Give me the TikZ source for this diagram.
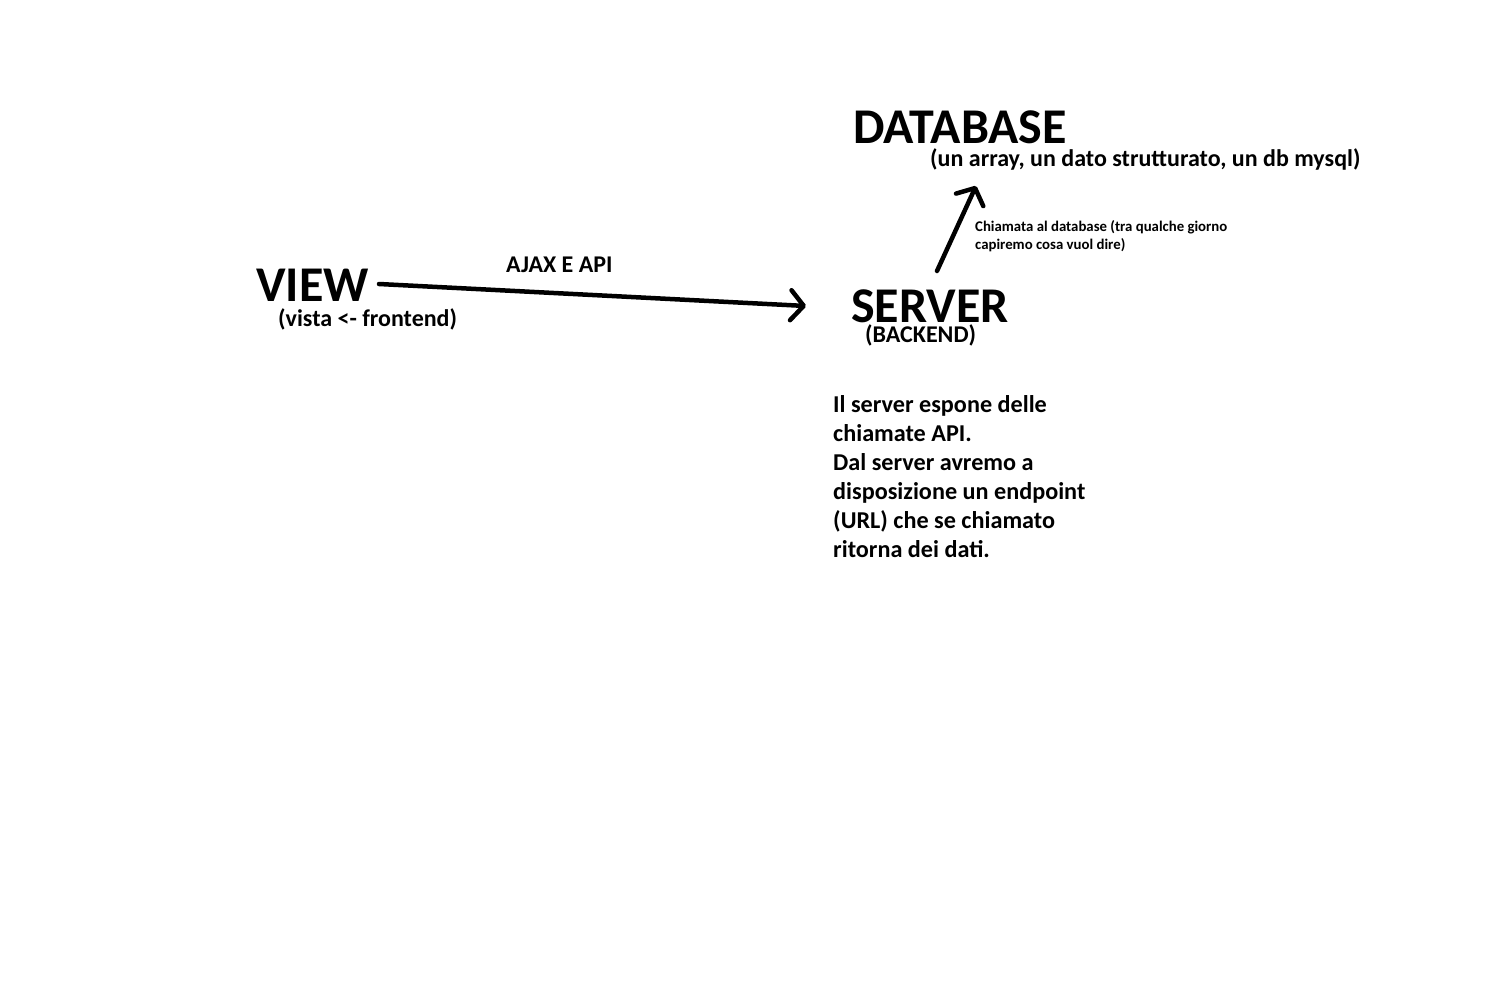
\documentclass[tikz,border=0pt]{standalone}
\usepackage{fontspec}
\setmainfont{Carlito}
\usetikzlibrary{arrows.meta}
\begin{document}
\begin{tikzpicture}[x=1pt,y=-1pt,
  big/.style={anchor=base west,inner sep=0pt,font=\bfseries\fontsize{50}{50}\selectfont},
  mid/.style={anchor=base west,inner sep=0pt,font=\bfseries\fontsize{24}{24}\selectfont},
  small/.style={anchor=base west,inner sep=0pt,align=left,font=\bfseries\fontsize{14.8}{18}\selectfont},
  body/.style={anchor=north west,inner sep=0pt,align=left,font=\bfseries\fontsize{24.2}{29}\selectfont},
  conn/.style={line width=4.5pt,line cap=round,line join=round,
    -{Straight Barb[length=13pt,width=30pt,line width=4.5pt,round]}}]
\useasboundingbox (0,0) rectangle (1510,1006);
\node[big] (db) at (853,144) {DATABASE};
\node[mid] (dbsub) at (930,166) {(un array, un dato strutturato, un db mysql)};
\node[big] (view) at (256,301) {VIEW};
\node[mid] (viewsub) at (278,326) {(vista <- frontend)};
\node[big] (server) at (851,322) {SERVER};
\node[mid] (serversub) at (865,342) {(BACKEND)};
\node[mid] (ajax) at (506,272) {AJAX E API};
\node[small] (call) at (975,249) {Chiamata al database (tra qualche giorno\\capiremo cosa vuol dire)};
\node[body] (desc) at (833,395) {Il server espone delle\\chiamate API.\\Dal server avremo a\\disposizione un endpoint\\(URL) che se chiamato\\ritorna dei dati.};
\coordinate (a1s) at (379,284);
\coordinate (a1e) at (806,306);
\coordinate (a2s) at (937,271);
\coordinate (a2e) at (976,186);
\draw[conn] (a1s) -- (a1e);
\draw[conn] (a2s) -- (a2e);
\end{tikzpicture}
\end{document}
